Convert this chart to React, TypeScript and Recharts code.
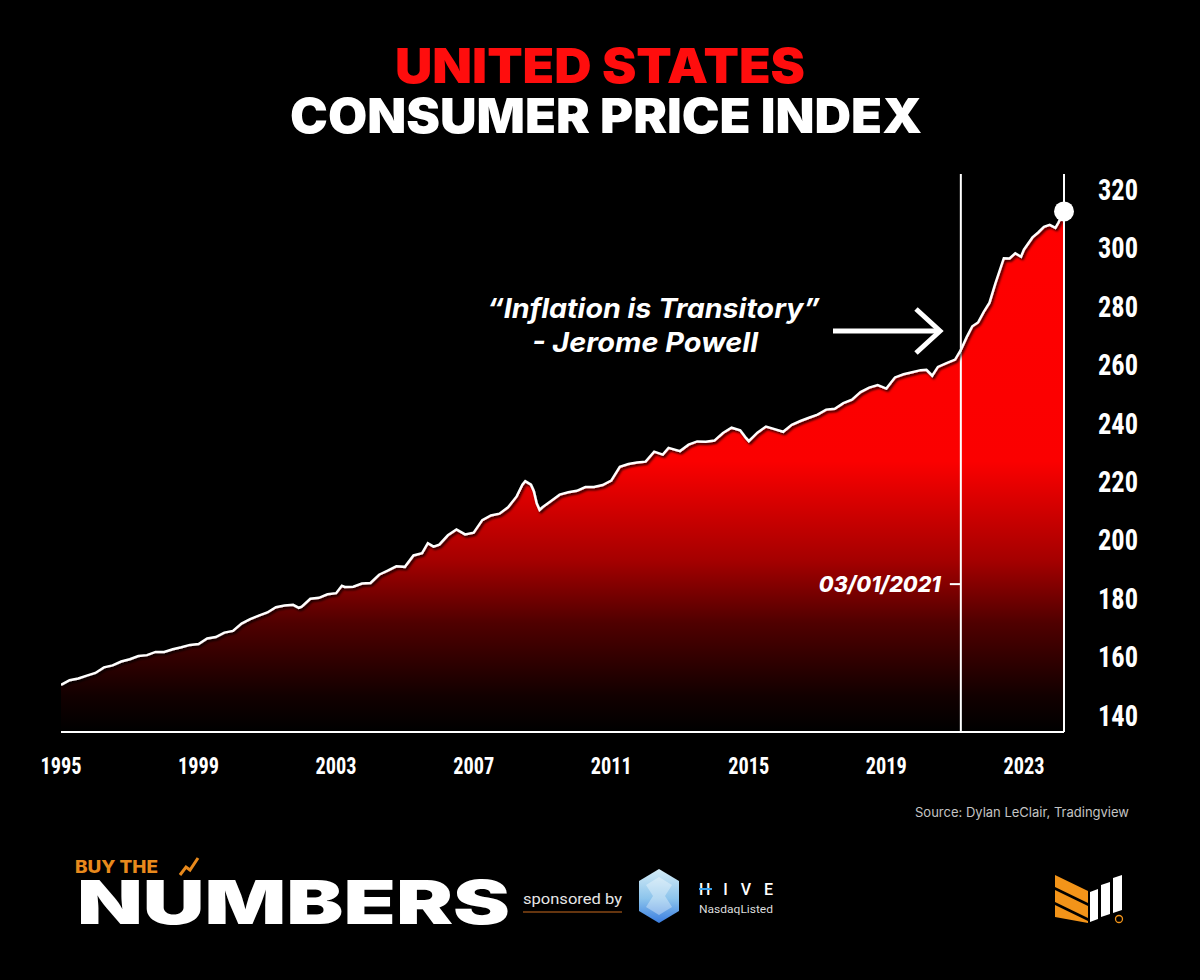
import {
  ComposedChart,
  Area,
  Line,
  XAxis,
  YAxis,
  ReferenceLine,
  ReferenceDot,
} from 'recharts'

// CPI-U (NSA), mostly quarterly with extra points at the turns
const dates = [
  '1995-01', '1995-04', '1995-07', '1995-10',
  '1996-01', '1996-04', '1996-07', '1996-10',
  '1997-01', '1997-04', '1997-07', '1997-10',
  '1998-01', '1998-04', '1998-07', '1998-10',
  '1999-01', '1999-04', '1999-07', '1999-10',
  '2000-01', '2000-04', '2000-07', '2000-10',
  '2001-01', '2001-04', '2001-07', '2001-10', '2001-12',
  '2002-01', '2002-04', '2002-07', '2002-10',
  '2003-01', '2003-03', '2003-04', '2003-07', '2003-10',
  '2004-01', '2004-04', '2004-07', '2004-10',
  '2005-01', '2005-04', '2005-07', '2005-09', '2005-11',
  '2006-01', '2006-04', '2006-07', '2006-10',
  '2007-01', '2007-04', '2007-07', '2007-10',
  '2008-01', '2008-04', '2008-06', '2008-07', '2008-09', '2008-10', '2008-11', '2008-12',
  '2009-01', '2009-04', '2009-07', '2009-10',
  '2010-01', '2010-04', '2010-07', '2010-10',
  '2011-01', '2011-04', '2011-07', '2011-10',
  '2012-01', '2012-04', '2012-07', '2012-09',
  '2013-01', '2013-04', '2013-07', '2013-10',
  '2014-01', '2014-04', '2014-07', '2014-10', '2014-12',
  '2015-01', '2015-04', '2015-07', '2015-10',
  '2016-01', '2016-04', '2016-07', '2016-10',
  '2017-01', '2017-04', '2017-07', '2017-10',
  '2018-01', '2018-04', '2018-07', '2018-10',
  '2019-01', '2019-04', '2019-07', '2019-10',
  '2020-01', '2020-03', '2020-05', '2020-07', '2020-10',
  '2021-01', '2021-03', '2021-05', '2021-07', '2021-09', '2021-11',
  '2022-01', '2022-03', '2022-06', '2022-08', '2022-10', '2022-12',
  '2023-01', '2023-04', '2023-06', '2023-08', '2023-10', '2023-12',
  '2024-01', '2024-02', '2024-03',
]

const cpi = [
  150.3, 151.9, 152.5, 153.5,
  154.4, 156.3, 157.0, 158.3,
  159.1, 160.2, 160.5, 161.6,
  161.6, 162.5, 163.2, 164.0,
  164.3, 166.2, 166.7, 168.2,
  168.8, 171.3, 172.8, 174.0,
  175.1, 176.9, 177.5, 177.7, 176.7,
  177.1, 179.8, 180.1, 181.3,
  181.7, 184.2, 183.8, 183.9, 185.0,
  185.2, 188.0, 189.4, 190.9,
  190.7, 194.6, 195.4, 198.8, 197.6,
  198.3, 201.5, 203.5, 201.8,
  202.4, 206.7, 208.3, 208.9,
  211.1, 214.8, 218.8, 220.0, 218.8, 216.6, 212.4, 210.2,
  211.1, 213.2, 215.4, 216.2,
  216.7, 218.0, 218.0, 218.7,
  220.2, 224.9, 225.9, 226.4,
  226.7, 230.1, 229.1, 231.4,
  230.3, 232.5, 233.6, 233.5,
  233.9, 236.5, 238.3, 237.4, 234.8,
  233.7, 236.6, 238.7, 237.8,
  236.9, 239.3, 240.6, 241.7,
  242.8, 244.5, 244.8, 246.7,
  247.9, 250.5, 252.0, 252.9,
  251.7, 255.5, 256.6, 257.3,
  258.0, 258.1, 256.1, 259.1, 260.4,
  261.6, 264.9, 269.2, 273.0, 274.3, 277.9,
  281.1, 287.5, 296.3, 296.2, 298.0, 296.8,
  299.2, 303.4, 305.1, 307.0, 307.7, 306.7,
  308.4, 310.3, 312.3,
]

const yearTicks = [1995, 1999, 2003, 2007, 2011, 2015, 2019, 2023]
const cpiTicks = [140, 160, 180, 200, 220, 240, 260, 280, 300, 320]
const markerDate = '2021-03'
const markerLabel = '03/01/2021'

function toYear(d: string): number {
  const [y, m] = d.split('-').map(Number)
  return y + (m - 1) / 12
}

const data = dates.map((d, i) => ({ t: toYear(d), cpi: cpi[i] }))
const last = data[data.length - 1]

const AXIS_FONT = "'Liberation Sans Narrow', 'Roboto Condensed', 'DejaVu Sans Condensed', Roboto, sans-serif"
const HEAVY_FONT = "Inter, Lato, Roboto, sans-serif"

function YearTick({ x, y, payload }: any) {
  return (
    <text
      x={x}
      y={y}
      dy="0.71em"
      textAnchor="middle"
      fill="#fff"
      fontFamily={AXIS_FONT}
      fontWeight={700}
      fontSize={24}
      textLength={41}
      lengthAdjust="spacingAndGlyphs"
    >
      {payload.value}
    </text>
  )
}

function CpiTick({ x, y, payload }: any) {
  return (
    <text
      x={x}
      y={y}
      dy="0.36em"
      textAnchor="start"
      fill="#fff"
      fontFamily={AXIS_FONT}
      fontWeight={700}
      fontSize={30}
      textLength={40}
      lengthAdjust="spacingAndGlyphs"
    >
      {payload.value}
    </text>
  )
}

function MarkerLabel({ viewBox }: any) {
  const { x, y, height } = viewBox
  const ly = y + height * 0.735
  return (
    <g>
      <line x1={x - 11} x2={x} y1={ly} y2={ly} stroke="#fff" strokeWidth={2} />
      <text
        x={x - 20}
        y={ly + 8}
        textAnchor="end"
        fill="#fff"
        fontFamily={HEAVY_FONT}
        fontWeight={800}
        fontStyle="italic"
        fontSize={22}
        textLength={122}
        lengthAdjust="spacingAndGlyphs"
      >
        {markerLabel}
      </text>
    </g>
  )
}

function Branding() {
  return (
    <svg
      width={1200}
      height={980}
      style={{ position: 'absolute', left: 0, top: 0, pointerEvents: 'none' }}
    >
      <defs>
        <linearGradient id="hiveFill" x1="0" y1="0" x2="0" y2="1">
          <stop offset="0%" stopColor="#d4ecf7" />
          <stop offset="55%" stopColor="#8cc4ec" />
          <stop offset="100%" stopColor="#3a7de0" />
        </linearGradient>
      </defs>

      {/* title */}
      <text x={600} y={83} textAnchor="middle" fill="#ff0d0d" fontFamily={HEAVY_FONT}
        fontWeight={900} fontSize={48} textLength={410} lengthAdjust="spacingAndGlyphs">
        UNITED STATES
      </text>
      <text x={606} y={133} textAnchor="middle" fill="#fff" fontFamily={HEAVY_FONT}
        fontWeight={900} fontSize={48} textLength={632} lengthAdjust="spacingAndGlyphs">
        CONSUMER PRICE INDEX
      </text>

      {/* annotation */}
      <text x={487} y={318} fill="#fff" fontFamily={HEAVY_FONT} fontWeight={700}
        fontStyle="italic" fontSize={27} textLength={333} lengthAdjust="spacingAndGlyphs">
        “Inflation is Transitory”
      </text>
      <text x={532} y={352} fill="#fff" fontFamily={HEAVY_FONT} fontWeight={700}
        fontStyle="italic" fontSize={27} textLength={226} lengthAdjust="spacingAndGlyphs">
        - Jerome Powell
      </text>
      <line x1={833} y1={331} x2={938} y2={331} stroke="#fff" strokeWidth={5} />
      <polyline points="916,309 940,331 916,353" fill="none" stroke="#fff" strokeWidth={5} />

      {/* source */}
      <text x={915} y={817} fill="#c4c4c4" fontFamily="Inter, 'Open Sans', sans-serif"
        fontSize={13} textLength={214} lengthAdjust="spacingAndGlyphs">
        Source: Dylan LeClair, Tradingview
      </text>

      {/* Buy the Numbers */}
      <text x={75} y={873} fill="#e8891c" fontFamily={HEAVY_FONT} fontWeight={800}
        fontSize={17} textLength={83} lengthAdjust="spacingAndGlyphs">
        BUY THE
      </text>
      <text x={77} y={924} fill="#fff" fontFamily={HEAVY_FONT} fontWeight={900}
        fontSize={61} textLength={433} lengthAdjust="spacingAndGlyphs">
        NUMBERS
      </text>
      <polyline points="180,875 186,867 190,870 198,858" fill="none" stroke="#e8891c" strokeWidth={3} />

      <text x={523} y={904} fill="#e6e6e6" fontFamily="Roboto, Inter, sans-serif"
        fontSize={15} textLength={99} lengthAdjust="spacingAndGlyphs">
        sponsored by
      </text>
      <line x1={523} x2={622} y1={912} y2={912} stroke="#c96a1e" strokeWidth={1.2} />

      {/* HIVE */}
      <polygon points="659,869 679,881 679,911 659,923 639,911 639,881" fill="url(#hiveFill)" />
      <polygon points="659,877 672,885 665,896 672,907 659,915 646,907 653,896 646,885"
        fill="#ffffff" opacity={0.35} />
      <text x={699} y={895} fill="#fff" fontFamily="Roboto, Inter, sans-serif" fontWeight={500}
        fontSize={16} textLength={74} lengthAdjust="spacing">
        HIVE
      </text>
      <line x1={699} x2={712} y1={889} y2={889} stroke="#3aa0e8" strokeWidth={2} />
      <text x={699} y={913} fill="#dcdcdc" fontFamily="Roboto, Inter, sans-serif"
        fontSize={11} textLength={74} lengthAdjust="spacingAndGlyphs">
        NasdaqListed
      </text>

      {/* right logo */}
      <polygon points="1055,875 1088,891 1088,903 1055,887" fill="#f39419" />
      <polygon points="1055,890 1088,906 1088,918 1055,902" fill="#f39419" />
      <polygon points="1055,905 1088,921 1088,923 1055,917" fill="#f39419" />
      <polygon points="1090,892 1098,889 1098,919 1090,922" fill="#fff" />
      <polygon points="1101,885 1110,882 1110,914 1101,917" fill="#fff" />
      <polygon points="1113,878 1122,875 1122,910 1113,913" fill="#fff" />
      <circle cx={1119} cy={919} r={3.5} fill="none" stroke="#f39419" strokeWidth={1.3} />
    </svg>
  )
}

export default function App() {
  return (
    <div
      style={{
        position: 'absolute',
        left: 0,
        top: 0,
        width: 1200,
        height: 980,
        background: '#000',
        overflow: 'hidden',
      }}
    >
      <ComposedChart
        width={1200}
        height={800}
        data={data}
        margin={{ top: 174, left: 61, right: 56, bottom: 18 }}
        style={{ position: 'absolute', left: 0, top: 0 }}
      >
        <defs>
          <linearGradient id="cpiFill" x1="0" y1="0" x2="0" y2="1">
            <stop offset="0%" stopColor="#ff0000" />
            <stop offset="48%" stopColor="#fb0000" />
            <stop offset="67%" stopColor="#a50000" />
            <stop offset="79%" stopColor="#500000" />
            <stop offset="93%" stopColor="#120000" />
            <stop offset="100%" stopColor="#000000" />
          </linearGradient>
          <filter id="lineShadow" x="-5%" y="-5%" width="110%" height="120%">
            <feDropShadow dx={1.5} dy={2} stdDeviation={1.2} floodColor="#000" floodOpacity={0.85} />
          </filter>
        </defs>
        <XAxis
          dataKey="t"
          type="number"
          domain={[1995, last.t]}
          ticks={yearTicks}
          height={50}
          tickSize={0}
          tickMargin={25}
          tickLine={false}
          axisLine={{ stroke: '#fff', strokeWidth: 2 }}
          tick={<YearTick />}
          allowDataOverflow
        />
        <YAxis
          orientation="right"
          type="number"
          domain={[134.2, 325.1]}
          ticks={cpiTicks}
          width={80}
          tickSize={0}
          tickMargin={34}
          tickLine={false}
          axisLine={{ stroke: '#fff', strokeWidth: 2 }}
          tick={<CpiTick />}
          allowDataOverflow
        />
        <Area
          dataKey="cpi"
          type="linear"
          stroke="none"
          fill="url(#cpiFill)"
          fillOpacity={1}
          isAnimationActive={false}
        />
        <ReferenceLine
          x={toYear(markerDate)}
          stroke="#fff"
          strokeWidth={2}
          label={<MarkerLabel />}
        />
        <Line
          dataKey="cpi"
          type="linear"
          stroke="#fff"
          strokeWidth={2.5}
          dot={false}
          filter="url(#lineShadow)"
          isAnimationActive={false}
        />
        <ReferenceDot
          x={last.t}
          y={last.cpi}
          r={10}
          fill="#fff"
          stroke="none"
          ifOverflow="visible"
        />
      </ComposedChart>
      <Branding />
    </div>
  )
}
